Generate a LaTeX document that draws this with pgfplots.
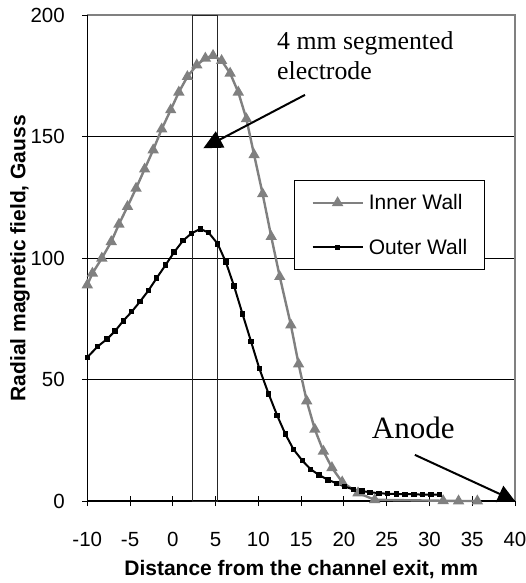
\documentclass[border=0pt]{standalone}
\usepackage{fontspec}
\setmainfont{Liberation Sans}
\newfontfamily\timesfont{Liberation Serif}
\usepackage{pgfplots}
\pgfplotsset{compat=1.18}
\usetikzlibrary{arrows.meta}
\definecolor{ingray}{RGB}{128,128,128}
\begin{document}
\begin{tikzpicture}
\begin{axis}[
  scale only axis, width=427.7bp, height=485.5bp,
  xmin=-10, xmax=40, ymin=0, ymax=200,
  xtick={-10,-5,...,40}, ytick={0,50,...,200},
  axis line style={draw=none},
  ymajorgrids, grid style={black, line width=0.8bp},
  tick style={black, line width=0.9bp},
  tick align=center, major tick length=10bp,
  tick pos=left,
  xticklabel style={anchor=base, yshift=-40.7bp, inner sep=0pt},
  yticklabel style={anchor=east, xshift=-17.3bp, inner sep=0pt},
  ticklabel style={font=\fontsize{20.5bp}{24bp}\selectfont},
  /pgf/number format/assume math mode=true,
  clip=false,
  legend cell align=left,
  legend image code/.code={\draw[mark repeat=2, mark phase=2, #1] plot coordinates {(0bp,0bp) (25bp,0bp) (50bp,0bp)};},
  legend style={at={(rel axis cs:0.4833,0.6612)}, anchor=north west, draw=black, line width=0.8bp, fill=white,
    inner xsep=17bp, inner ysep=14bp, row sep=28bp, column sep=5bp,
    nodes={inner sep=0pt, font=\fontsize{21bp}{25bp}\selectfont}},
]
\draw[ingray, line width=2bp] (rel axis cs:0,1) -- (rel axis cs:1,1) -- (rel axis cs:1,0);
\draw[black, line width=1.2bp] (rel axis cs:0,1) -- (rel axis cs:0,0) -- (rel axis cs:1,0);
\draw[black!85, line width=0.9bp] (axis cs:2.3,0) rectangle (axis cs:5.2,200);

\addplot[color=ingray, line width=2.4bp, mark=triangle*, mark size=4.2bp, mark options={solid, fill=ingray, draw=ingray}] table {
x y
-10 89
-9.4 93.8
-8.3 100
-7.2 106.8
-6.3 114
-5.3 121.3
-4.3 128.8
-3.3 136.7
-2.3 144.6
-1.3 153.2
-0.25 161.1
0.7 168.4
1.7 174.8
2.8 179.6
3.8 182.4
4.7 183.5
5.7 181.4
6.7 176.2
7.65 168.4
8.6 157.4
9.5 142.6
10.5 126.5
11.5 108.9
12.5 92.4
13.8 72.5
14.7 56.4
15.65 41.2
16.6 29.5
17.6 20.5
18.6 13.7
19.8 7.8
21.65 3.3
23.6 0.5
31.6 0.1
33.4 0
35.6 0
};
\addlegendentry{Inner Wall}

\addplot[color=black, line width=2bp, mark=square*, mark size=1.7bp, mark options={solid}] table {
x y
-10 59.2
-8.8 63.6
-7.7 66.7
-6.75 70
-5.8 74.2
-4.8 78
-3.85 82.1
-2.85 86.7
-1.9 91.8
-0.85 97.2
0.15 102.5
1.2 107.3
2.2 110.3
3.2 112.1
4.2 110.5
5.25 105.9
6.2 98.4
7.15 88.6
8.15 77
9.15 65.6
10.1 54.7
11.2 44.1
12.2 35.2
13.15 27.6
14.1 21.3
15.15 16.6
16.1 13.1
17.1 10.7
18.15 8.7
19.15 7.3
20.1 5.9
21.1 4.8
22.1 4.1
23.05 3.6
24.1 3.2
25.1 3.0
26.15 2.9
27.15 2.8
28.2 2.8
29.2 2.6
30.2 2.6
31.15 2.6
};
\addlegendentry{Outer Wall}

\draw[black, line width=2bp, -{Triangle[length=19bp,width=18bp]}] (axis cs:15.45,167.3) -- (axis cs:3.56,145.3);
\draw[black, line width=2bp, -{Triangle[length=17bp,width=17.5bp]}] (axis cs:28.3,19) -- (axis cs:40,0);
\node[anchor=base west, inner sep=0pt, font=\timesfont\fontsize{25.8bp}{31bp}\selectfont] at (axis cs:12.18,186.1) {4 mm segmented};
\node[anchor=base west, inner sep=0pt, font=\timesfont\fontsize{25.8bp}{31bp}\selectfont] at (axis cs:12.18,173.5) {electrode};
\node[anchor=base west, inner sep=0pt, font=\timesfont\fontsize{31bp}{37bp}\selectfont] at (axis cs:23.25,25.8) {Anode};
\end{axis}
\node[anchor=base, inner sep=0pt, font=\bfseries\fontsize{21bp}{25bp}\selectfont] at ([yshift=-74bp]current axis.south) {Distance from the channel exit, mm};
\node[rotate=90, inner sep=0pt, font=\bfseries\fontsize{21bp}{25bp}\selectfont] at ([xshift=-67.3bp]current axis.west) {Radial magnetic field, Gauss};
\pgfresetboundingbox
\path[use as bounding box] ([xshift=-87.3bp,yshift=-82bp]current axis.south west) rectangle ([xshift=11bp,yshift=15.5bp]current axis.north east);
\end{tikzpicture}
\end{document}
